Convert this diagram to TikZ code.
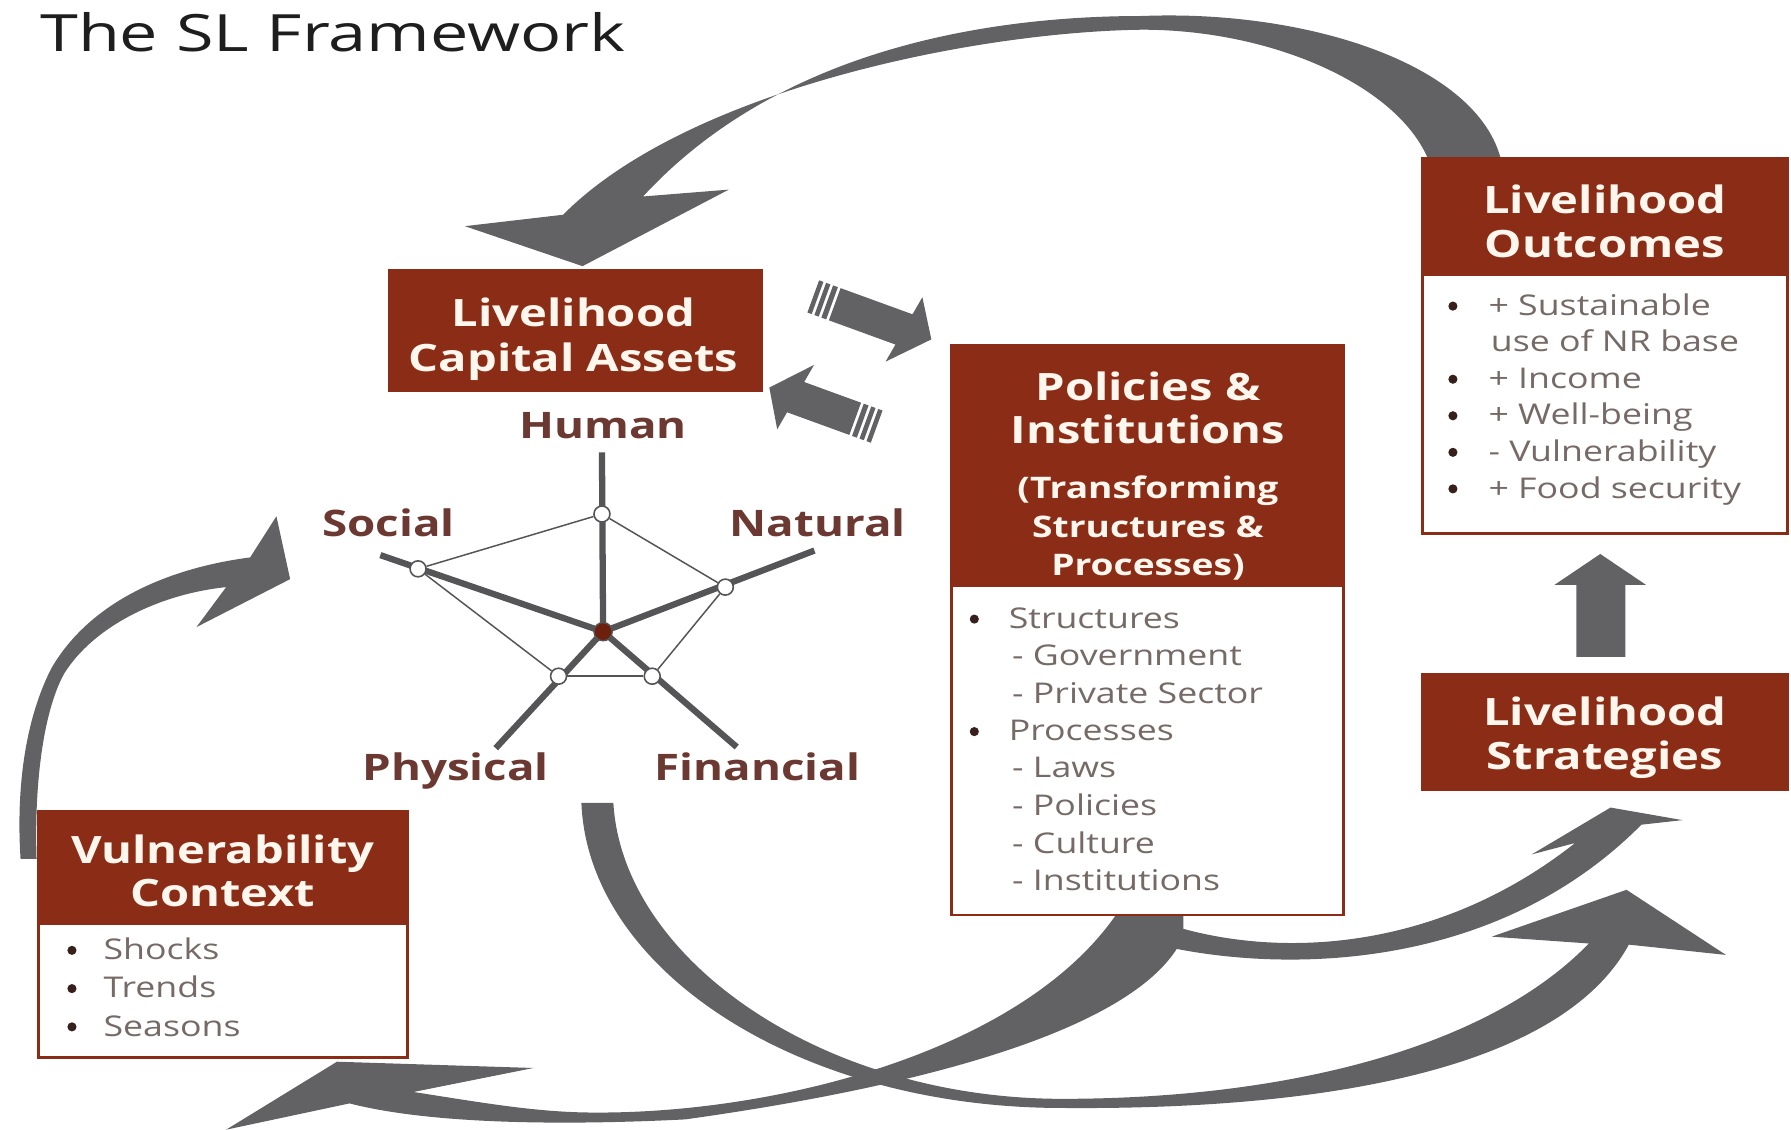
\documentclass[tikz,border=0pt]{standalone}
\usepackage{fontspec}
\setmainfont{Open Sans}[FakeStretch=1.25]
\newfontfamily\titlefont{Open Sans}[FakeStretch=1.33]
\definecolor{hdrbrown}{RGB}{139,45,22}
\definecolor{hdrtxt}{RGB}{255,247,238}
\definecolor{arrowgray}{RGB}{98,98,100}
\definecolor{spokegray}{RGB}{85,85,88}
\definecolor{labelbrown}{RGB}{108,56,50}
\definecolor{bodygray}{RGB}{118,106,102}
\definecolor{bulletdark}{RGB}{55,32,28}
\definecolor{titleblack}{RGB}{30,30,30}
\definecolor{dotbrown}{RGB}{110,32,15}
\begin{document}
\begin{tikzpicture}[x=1pt,y=-1pt,
  hdrbox/.style={fill=hdrbrown, draw=hdrbrown, line width=2.5pt, inner sep=0pt, outer sep=0pt, anchor=north west},
  bodybox/.style={fill=white, draw=hdrbrown, line width=2.5pt, inner sep=0pt, outer sep=0pt, anchor=north west},
  htext/.style={text=hdrtxt, font=\fontsize{33}{38}\selectfont\bfseries, anchor=base, inner sep=0pt},
  hsub/.style={text=hdrtxt, font=\fontsize{26}{30}\selectfont\bfseries, anchor=base, inner sep=0pt},
  btext/.style={text=bodygray, font=\fontsize{25}{30}\selectfont, anchor=base west, inner sep=0pt},
  bul/.style={circle, fill=bulletdark, minimum size=8pt, inner sep=0pt},
  caplabel/.style={text=labelbrown, font=\fontsize{32}{36}\selectfont\bfseries, anchor=base, inner sep=0pt},
  spoke/.style={draw=spokegray, line width=5.5pt},
  rim/.style={draw=spokegray, line width=1.3pt},
  vtx/.style={circle, fill=white, draw=spokegray, line width=1.4pt, minimum size=14pt, inner sep=0pt},
  hub/.style={circle, fill=dotbrown, draw=spokegray, line width=1.2pt, minimum size=16pt, inner sep=0pt},
  flow/.style={fill=arrowgray}
]
\useasboundingbox (0,0) rectangle (1568,989);
\fill[white] (0,0) rectangle (1568,989);

% ---------- title ----------
\node[anchor=base west, inner sep=0pt, text=titleblack, font=\titlefont\fontsize{45}{50}\selectfont] (title) at (35,45) {The SL Framework};

% ---------- big curved arrows (behind boxes) ----------
% Outcomes -> Capital assets (top arc)
\fill[flow] (1316,150) .. controls (1305,60) and (1150,8) .. (1000,14)
  .. controls (860,14) and (680,45) .. (563,172) -- (638,166) -- (510,233) -- (407,198) -- (493,188)
  .. controls (600,80) and (850,28) .. (1000,26)
  .. controls (1120,26) and (1235,80) .. (1254,150) -- cycle;
% Vulnerability -> Social (left arc)
\fill[flow] (18,752) .. controls (14,690) and (22,630) .. (45,585)
  .. controls (80,525) and (150,497) .. (219,488) -- (242,452) -- (254,507) -- (172,549) -- (198,514)
  .. controls (140,520) and (82,548) .. (56,590)
  .. controls (37,625) and (30,690) .. (32,752) -- cycle;
% Capital assets -> Strategies (lower right)
\fill[flow] (509,703) .. controls (515,850) and (700,970) .. (930,970)
  .. controls (1180,972) and (1370,930) .. (1426,827) -- (1511,836) -- (1424,779) -- (1306,820) -- (1391,826)
  .. controls (1300,920) and (1120,962) .. (930,962)
  .. controls (720,962) and (545,840) .. (537,703) -- cycle;
% Policies -> Vulnerability (bottom left)
\fill[flow] (981,795) .. controls (900,920) and (680,975) .. (520,974)
  .. controls (470,974) and (420,965) .. (362,956) -- (467,935) -- (295,929.5) -- (198,989) -- (306,966)
  .. controls (380,985) and (500,985) .. (600,980)
  .. controls (850,945) and (1005,890) .. (1036,820) -- (1036,795) -- cycle;
% Policies -> Strategies (upper right)
\fill[flow] (1005,803) .. controls (1100,840) and (1250,840) .. (1379,738) -- (1341,748) -- (1410,707) -- (1473,718) -- (1437,722)
  .. controls (1300,860) and (1100,850) .. (1005,825) -- cycle;

% ---------- boxes ----------
\node[hdrbox, minimum width=326pt, minimum height=105pt] (lca) at (341,237) {};
\node[bodybox, minimum width=343pt, minimum height=499pt] (piBody) at (833,302) {};
\node[hdrbox, minimum width=343pt, minimum height=211pt] (piHdr) at (833,302) {};
\node[bodybox, minimum width=320pt, minimum height=328pt] (loBody) at (1245,139) {};
\node[hdrbox, minimum width=320pt, minimum height=101pt] (loHdr) at (1245,139) {};
\node[hdrbox, minimum width=320pt, minimum height=101pt] (ls) at (1245,590.5) {};
\node[bodybox, minimum width=323.5pt, minimum height=215.5pt] (vcBody) at (33.5,710.5) {};
\node[hdrbox, minimum width=323.5pt, minimum height=98pt] (vcHdr) at (33.5,710.5) {};

% header texts
\node[htext] (lcaA) at (502,286) {Livelihood};
\node[htext] (lcaB) at (502,325) {Capital Assets};
\node[htext] (piA) at (1005,351) {Policies \&};
\node[htext] (piB) at (1005,388) {Institutions};
\node[hsub] (piC) at (1005,436) {(Transforming};
\node[hsub] (piD) at (1005,471) {Structures \&};
\node[hsub] (piE) at (1005,504) {Processes)};
\node[htext] (loA) at (1405,187) {Livelihood};
\node[htext] (loB) at (1405,225) {Outcomes};
\node[htext] (lsA) at (1405,635) {Livelihood};
\node[htext] (lsB) at (1405,674) {Strategies};
\node[htext] (vcA) at (195,756) {Vulnerability};
\node[htext] (vcB) at (195,794) {Context};

% body lists
\node[bul] (piBu1) at (853,542) {};
\node[btext] (piL1) at (883,550) {Structures};
\node[btext] (piL2) at (886,583) {- Government};
\node[btext] (piL3) at (886,615.5) {- Private Sector};
\node[bul] (piBu2) at (853,640.5) {};
\node[btext] (piL4) at (883,648.5) {Processes};
\node[btext] (piL5) at (886,681) {- Laws};
\node[btext] (piL6) at (886,714) {- Policies};
\node[btext] (piL7) at (886,747) {- Culture};
\node[btext] (piL8) at (886,780) {- Institutions};

\node[bul] (loBu1) at (1272,268) {};
\node[btext] (loL1) at (1303,276) {+ Sustainable};
\node[btext] (loL2) at (1305,308) {use of NR base};
\node[bul] (loBu2) at (1272,332) {};
\node[btext] (loL3) at (1303,340) {+ Income};
\node[bul] (loBu3) at (1272,364) {};
\node[btext] (loL4) at (1303,372) {+ Well-being};
\node[bul] (loBu4) at (1272,396) {};
\node[btext] (loL5) at (1303,404) {- Vulnerability};
\node[bul] (loBu5) at (1272,428) {};
\node[btext] (loL6) at (1303,436) {+ Food security};

\node[bul] (vcBu1) at (63,832) {};
\node[btext] (vcL1) at (90.5,840) {Shocks};
\node[bul] (vcBu2) at (63,865.5) {};
\node[btext] (vcL2) at (90.5,873.5) {Trends};
\node[bul] (vcBu3) at (63,899) {};
\node[btext] (vcL3) at (90.5,907) {Seasons};

% ---------- small block arrows between assets and policies ----------
\begin{scope}[shift={(712,259.5)}, rotate=-20]
  \fill[flow] (20,-15) -- (87,-15) -- (90,-32) -- (110,0) -- (79,32) -- (82,15) -- (20,15) -- cycle;
  \fill[flow] (0,-15) rectangle (4,15);
  \fill[flow] (6.5,-15) rectangle (10.5,15);
  \fill[flow] (13,-15) rectangle (17.5,15);
\end{scope}
\begin{scope}[shift={(767.5,373.5)}, rotate=160]
  \fill[flow] (20,-15) -- (78,-15) -- (81,-32) -- (100,0) -- (70,32) -- (73,15) -- (20,15) -- cycle;
  \fill[flow] (0,-15) rectangle (4,15);
  \fill[flow] (6.5,-15) rectangle (10.5,15);
  \fill[flow] (13,-15) rectangle (17.5,15);
\end{scope}

% ---------- up arrow strategies -> outcomes ----------
\fill[flow] (1380,575) -- (1380,512) -- (1361,512) -- (1401,485) -- (1441,512) -- (1423,512) -- (1423,575) -- cycle;

% ---------- asset pentagon ----------
\coordinate (C) at (528,553);
\coordinate (Ho) at (527,396);
\coordinate (So) at (333,486);
\coordinate (No) at (713,482);
\coordinate (Po) at (434,655);
\coordinate (Fo) at (645,654);
\draw[spoke] (C) -- (Ho);
\draw[spoke] (C) -- (So);
\draw[spoke] (C) -- (No);
\draw[spoke] (C) -- (Po);
\draw[spoke] (C) -- (Fo);
\node[vtx] (vH) at (527,450) {};
\node[vtx] (vS) at (366,498) {};
\node[vtx] (vN) at (635,514) {};
\node[vtx] (vP) at (489,592) {};
\node[vtx] (vF) at (571,592) {};
\draw[rim] (vH) -- (vS);
\draw[rim] (vH) -- (vN);
\draw[rim] (vS) -- (vP);
\draw[rim] (vN) -- (vF);
\draw[rim] (vP) -- (vF);
\node[hub] (hub) at (C) {};

\node[caplabel] (lHuman) at (528,384) {Human};
\node[caplabel] (lSocial) at (340,470) {Social};
\node[caplabel] (lNatural) at (716,470) {Natural};
\node[caplabel] (lPhysical) at (399,683) {Physical};
\node[caplabel] (lFinancial) at (663,683) {Financial};
\end{tikzpicture}
\end{document}
